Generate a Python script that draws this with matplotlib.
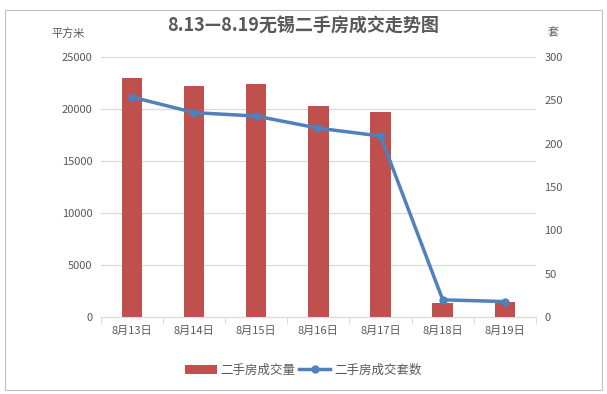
import matplotlib.pyplot as plt
import numpy as np

plt.rcParams['font.family'] = ['Noto Sans CJK SC', 'DejaVu Sans']

dates = ['8月13日', '8月14日', '8月15日', '8月16日', '8月17日', '8月18日', '8月19日']
area = [23000, 22200, 22400, 20300, 19700, 1350, 1450]
units = [254, 236, 232, 218, 209, 20, 18]

bar_color = '#C0504D'
line_color = '#4F81BD'
text_color = '#595959'

fig = plt.figure(figsize=(6.07, 3.94), dpi=100)
ax = fig.add_axes([0.166, 0.195, 0.717, 0.66])
x = np.arange(len(dates))

ax.bar(x, area, width=0.33, color=bar_color, zorder=2, label='二手房成交量')
ax.set_ylim(0, 25000)
ax.set_yticks(range(0, 25001, 5000))
ax.set_xlim(-0.5, len(dates) - 0.5)
ax.set_xticks(x)
ax.set_xticklabels(dates)
ax.yaxis.grid(True, color='#D9D9D9', linewidth=0.8, zorder=0)
for s in ['top', 'right', 'left']:
    ax.spines[s].set_visible(False)
ax.spines['bottom'].set_color('#D9D9D9')
ax.tick_params(axis='y', length=0, labelsize=8, labelcolor=text_color, pad=6)
ax.tick_params(axis='x', length=4, color='#D9D9D9', labelsize=8, labelcolor=text_color)
ax.set_xticks(np.arange(-0.5, len(dates)), minor=True)
ax.tick_params(axis='x', which='minor', length=5, color='#D9D9D9')
ax.tick_params(axis='x', which='major', length=0, pad=6)

ax2 = ax.twinx()
ax2.plot(x, units, color=line_color, linewidth=2.5, marker='o', markersize=5,
         zorder=3, label='二手房成交套数')
ax2.set_ylim(0, 300)
ax2.set_yticks(range(0, 301, 50))
for s in ['top', 'right', 'left', 'bottom']:
    ax2.spines[s].set_visible(False)
ax2.tick_params(axis='y', length=0, labelsize=8, labelcolor=text_color, pad=6)

fig.text(0.5, 0.935, '8.13—8.19无锡二手房成交走势图', ha='center', va='center',
         fontsize=13, fontweight='bold', color=text_color)
fig.text(0.112, 0.915, '平方米', ha='center', va='center', fontsize=8, color=text_color)
fig.text(0.912, 0.915, '套', ha='center', va='center', fontsize=8, color=text_color)

h1, l1 = ax.get_legend_handles_labels()
h2, l2 = ax2.get_legend_handles_labels()
fig.legend(h1 + h2, l1 + l2, loc='center', bbox_to_anchor=(0.5, 0.06), ncol=2,
           frameon=False, fontsize=9, labelcolor=text_color, handlelength=2.5,
           columnspacing=0.3, handletextpad=0.3)

fig.patches.append(plt.Rectangle((0.008, 0.01), 0.984, 0.965, transform=fig.transFigure,
                                 fill=False, edgecolor='#BFBFBF', linewidth=0.8))

fig.savefig('out.png', dpi=100)
